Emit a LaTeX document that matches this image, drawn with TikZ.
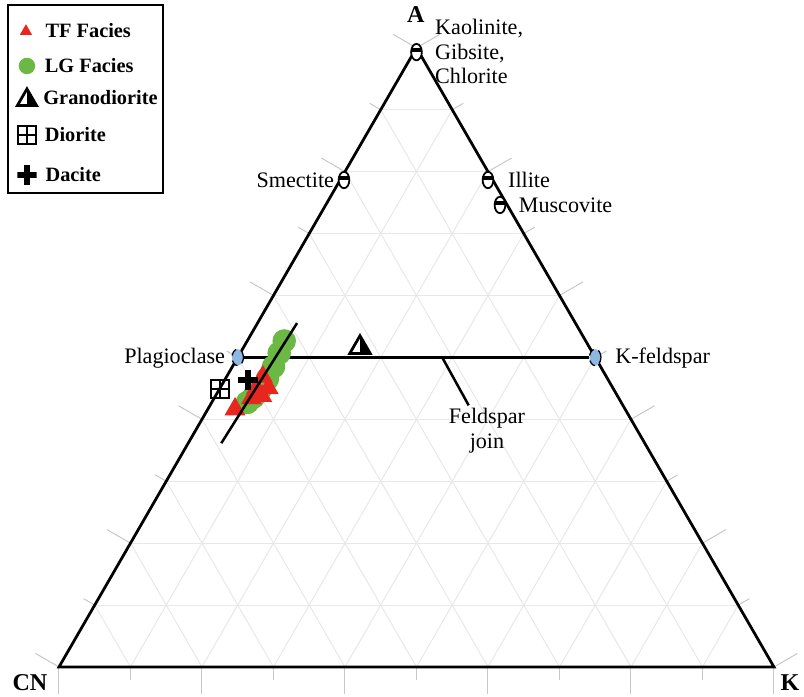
\documentclass[tikz,border=0pt]{standalone}
\usepackage{fontspec}
\setmainfont{Liberation Serif}
\usepackage{xcolor}
\usepackage{tikz}
\usetikzlibrary{positioning,shapes}

\definecolor{tfred}{HTML}{E8251F}
\definecolor{lggreen}{HTML}{6CB844}
\definecolor{feldblue}{HTML}{8DB8E2}
\definecolor{gridgray}{HTML}{E8E8E8}
\definecolor{tickgray}{HTML}{C8C8C8}

\begin{document}
\begin{tikzpicture}[scale=1.0,
    lbl/.style={font=\fontsize{8.8}{10}\selectfont, inner sep=1pt},
    corner/.style={font=\fontsize{9.6}{11}\selectfont\bfseries, inner sep=1pt},
    legtext/.style={font=\fontsize{8.1}{10}\selectfont\bfseries, inner sep=1pt, anchor=west},
    clay/.style={ellipse, draw, line width=0.7pt, fill=white, inner sep=0pt,
        minimum width=0.15cm, minimum height=0.23cm,
        path picture={\draw[line width=1.7pt] ([yshift=0.7pt]path picture bounding box.west) -- ([yshift=0.7pt]path picture bounding box.east);}},
    feld/.style={ellipse, draw, densely dashed, line width=0.5pt, fill=feldblue, inner sep=0pt,
        minimum width=0.16cm, minimum height=0.23cm,
        path picture={\fill ([shift={(0.03,0.035)}]path picture bounding box.center) circle (0.7pt);}},
    tfmark/.style={regular polygon, regular polygon sides=3, fill=tfred, inner sep=0pt, minimum size=0.33cm},
    lgmark/.style={circle, fill=lggreen, inner sep=0pt, minimum size=0.33cm},
    granomark/.style={regular polygon, regular polygon sides=3, draw, line width=1.1pt, inner sep=0pt, minimum size=0.33cm,
        path picture={\fill (path picture bounding box.north) rectangle (path picture bounding box.south east);}},
    dioritemark/.style={rectangle, draw, line width=0.9pt, inner sep=0pt, minimum size=0.25cm,
        path picture={\draw[line width=0.9pt] (path picture bounding box.north) -- (path picture bounding box.south)
            (path picture bounding box.west) -- (path picture bounding box.east);}},
    dacitemark/.style={rectangle, inner sep=0pt, minimum size=0.28cm,
        path picture={\draw[line width=2.2pt] (path picture bounding box.north) -- (path picture bounding box.south)
            (path picture bounding box.west) -- (path picture bounding box.east);}}
]

\useasboundingbox (-0.825,-0.406) rectangle (10.420,9.329);

% Grid
\foreach \i in {1,...,9} {
    \draw[gridgray, line width=0.4pt] (\i/2, \i*0.8660) -- (10-\i/2, \i*0.8660);
    \draw[gridgray, line width=0.4pt] (\i,0) -- (5+\i/2, {(10-\i)*0.8660});
    \draw[gridgray, line width=0.4pt] (\i,0) -- (\i/2, \i*0.8660);
}

% Ticks (long every other one)
\foreach \i in {0,...,10} {
    \pgfmathsetmacro{\tl}{ifthenelse(mod(\i,2)==0,0.38,0.18)}
    \draw[tickgray, line width=0.4pt] (\i,0) -- ++(0,-\tl);
    \draw[tickgray, line width=0.4pt] (\i/2, \i*0.8660) -- ++(150:\tl);
    \draw[tickgray, line width=0.4pt] (10-\i/2, \i*0.8660) -- ++(30:\tl);
}

% Triangle
\coordinate (CN) at (0,0);
\coordinate (K) at (10,0);
\coordinate (A) at (5,8.6603);
\draw[line width=1.1pt] (CN) -- (K) -- (A) -- cycle;

% Corner labels
\node[corner] (CNlbl) at (-0.406,-0.224) {CN};
\node[corner] (Klbl) at (10.224,-0.224) {K};
\node[corner] (Albl) at (4.99,9.119) {A};

% Mineral markers
\node[clay] (kaol) at (5.0,8.60) {};
\node[clay] (smec) at (3.986,6.811) {};
\node[clay] (illi) at (6.0,6.811) {};
\node[clay] (musc) at (6.168,6.462) {};
\node[feld] (plag) at (2.5,4.33) {};
\node[feld] (kfs) at (7.5,4.33) {};

% Feldspar join
\draw[line width=1pt] (plag) -- (kfs);

% Mineral labels
\node[lbl, anchor=west, align=left, font=\fontsize{8.8}{9.6}\selectfont] (kaollbl) at (5.22,8.608) {Kaolinite,\\Gibsite,\\Chlorite};
\node[lbl, anchor=east] (smeclbl) at (3.888,6.811) {Smectite};
\node[lbl, anchor=west] (illilbl) at (6.24,6.811) {Illite};
\node[lbl, anchor=west] (musclbl) at (6.39,6.462) {Muscovite};
\node[lbl, anchor=east] (plaglbl) at (2.364,4.322) {Plagioclase};
\node[lbl, anchor=west] (kfslbl) at (7.74,4.322) {K-feldspar};
\node[lbl, align=center, font=\fontsize{8.8}{10}\selectfont] (joinlbl) at (5.986,3.31) {Feldspar\\join};

% Leader to join label
\coordinate (joinpt) at (5.36,4.33);
\coordinate (leadend) at (5.73,3.66);
\draw[line width=1pt] (joinpt) -- (leadend);

% LG Facies samples
\foreach \x/\y in {3.15/4.56, 3.08/4.39, 3.00/4.20, 2.915/4.03, 2.82/3.89, 2.72/3.775, 2.635/3.70} {
    \node[lgmark] at (\x,\y) {};
}

% TF Facies samples
\foreach \x/\y in {2.85/4.06, 2.93/3.90, 2.76/3.90, 2.84/3.79, 2.69/3.76} {
    \node[tfmark] at (\x,\y) {};
}
\node[tfmark, minimum size=0.34cm] (tfbig) at (2.462,3.604) {};

% Sample trend line
\coordinate (trendA) at (3.33,4.81);
\coordinate (trendB) at (2.27,3.13);
\draw[line width=1pt] (trendA) -- (trendB);

% Rock compositions
\node[granomark] (grano) at (4.21,4.468) {};
\node[dioritemark] (diorite) at (2.252,3.888) {};
\node[dacitemark] (dacite) at (2.643,4.014) {};

% Legend
\draw[line width=0.8pt] (-0.713,6.629) rectangle (1.455,9.259);
\node[tfmark, minimum size=0.2cm] (legtf) at (-0.462,8.89) {};
\node[legtext] (legtftxt) at (-0.23,8.895) {TF Facies};
\node[lgmark, minimum size=0.23cm] (leglg) at (-0.448,8.406) {};
\node[legtext] (leglgtxt) at (-0.24,8.406) {LG Facies};
\node[granomark, minimum size=0.31cm] (leggrano) at (-0.448,7.93) {};
\node[legtext] (leggranotxt) at (-0.26,7.958) {Granodiorite};
\node[dioritemark, minimum size=0.26cm] (legdio) at (-0.448,7.441) {};
\node[legtext] (legdiotxt) at (-0.24,7.441) {Diorite};
\node[dacitemark, minimum size=0.27cm] (legdac) at (-0.448,6.881) {};
\node[legtext] (legdactxt) at (-0.23,6.881) {Dacite};

\end{tikzpicture}
\end{document}
